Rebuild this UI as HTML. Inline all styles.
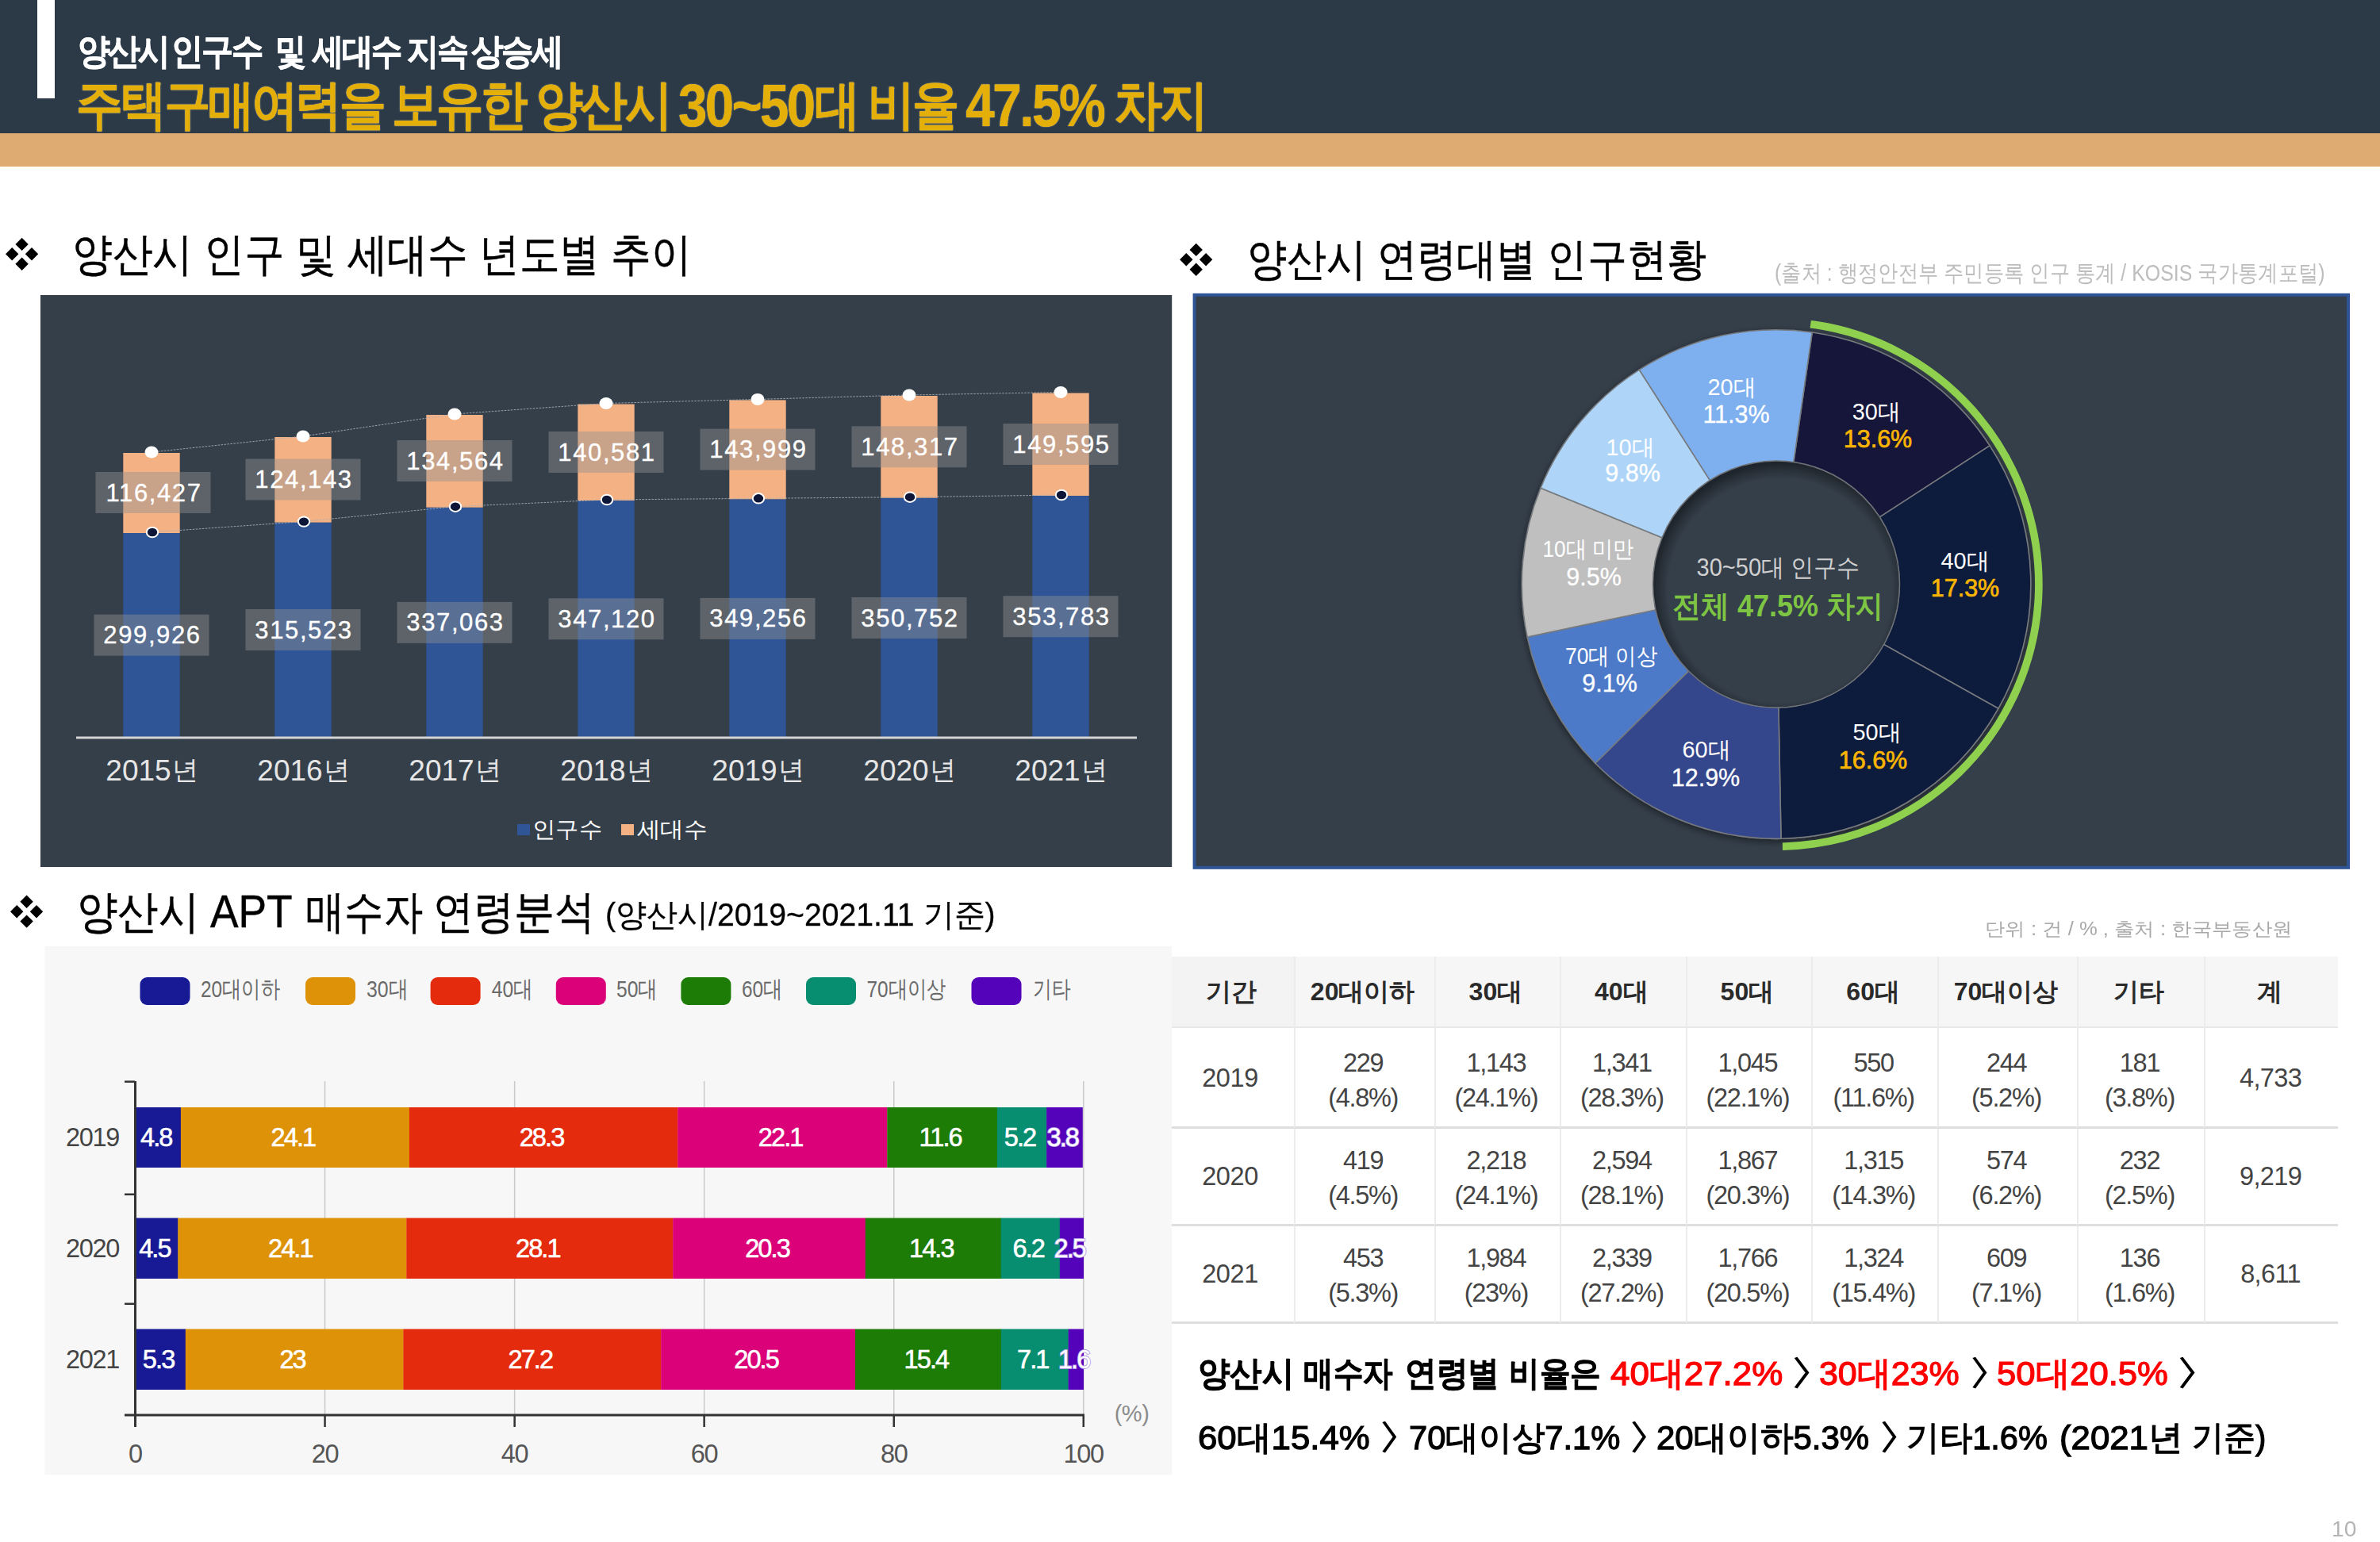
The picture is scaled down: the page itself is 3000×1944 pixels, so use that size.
<!DOCTYPE html>
<html lang="ko"><head><meta charset="utf-8"><title>양산시 인구수 및 세대수</title>
<style>
html,body{margin:0;padding:0;}
body{width:3000px;height:1944px;position:relative;overflow:hidden;background:#fff;font-family:"Liberation Sans",sans-serif;}
.abs{position:absolute;white-space:nowrap;transform-origin:0 0;}
#hdr{left:0;top:0;width:3000px;height:167.5px;background:#2c3a48;}
#tan{left:0;top:167.5px;width:3000px;height:42px;background:#deac72;}
#wbar{left:47px;top:0;width:22px;height:124px;background:#fff;}
svg{position:absolute;left:0;top:0;}
svg text{font-family:"Liberation Sans",sans-serif;}
table{border-collapse:separate;border-spacing:0;position:absolute;left:1477.3px;top:1206.2px;table-layout:fixed;width:1470px;}
td,th{padding:0;box-sizing:border-box;text-align:center;vertical-align:middle;color:#444;font-size:32.5px;letter-spacing:-1.3px;line-height:44.4px;border-left:2.5px solid #ececec;border-bottom:3px solid #dedede;font-weight:normal;}
th{background:#f6f6f6;color:#2a2a2a;font-weight:bold;font-size:32px;height:90px;letter-spacing:0;border-bottom:2.5px solid #e8e8e8;}
td{height:123.1px;}
tr.r1 td{height:126.5px;}
td.two{padding-top:5px;padding-right:4px;}
tr.r1 td{padding-top:3px;}
tr.r1 td.two{padding-top:8px;}
td:first-child{padding-right:7px;letter-spacing:-0.4px;}
td:last-child{padding-right:3px;letter-spacing:-0.6px;}
th{padding-right:5px;}
td:first-child,th:first-child{border-left:none;}
th:first-child{background:#f3f3f3;}
th span{display:inline-block;}
.r{color:#ff0000;}
.gt{letter-spacing:-0.42em;}
</style></head><body>
<div id="hdr" class="abs"></div><div id="tan" class="abs"></div><div id="wbar" class="abs"></div>

<div class="abs" style="left:97.5px;top:42.0px;font-size:45.26px;line-height:45.26px;transform:scaleX(0.9025);font-weight:bold;letter-spacing:-0.06em;color:#fff;-webkit-text-stroke:0.9px #fff;">양산시</div>
<div class="abs" style="left:215.9px;top:42.0px;font-size:45.26px;line-height:45.26px;transform:scaleX(0.8944);font-weight:bold;letter-spacing:-0.06em;color:#fff;-webkit-text-stroke:0.9px #fff;">인구수</div>
<div class="abs" style="left:347.1px;top:42.0px;font-size:45.26px;line-height:45.26px;transform:scaleX(0.8615);font-weight:bold;letter-spacing:-0.06em;color:#fff;-webkit-text-stroke:0.9px #fff;">및</div>
<div class="abs" style="left:394.3px;top:42.0px;font-size:45.26px;line-height:45.26px;transform:scaleX(0.8721);font-weight:bold;letter-spacing:-0.06em;color:#fff;-webkit-text-stroke:0.9px #fff;">세대수</div>
<div class="abs" style="left:512.5px;top:42.0px;font-size:45.26px;line-height:45.26px;transform:scaleX(0.8905);font-weight:bold;letter-spacing:-0.06em;color:#fff;-webkit-text-stroke:0.9px #fff;">지속</div>
<div class="abs" style="left:594.1px;top:42.0px;font-size:45.26px;line-height:45.26px;transform:scaleX(0.9008);font-weight:bold;letter-spacing:-0.06em;color:#fff;-webkit-text-stroke:0.9px #fff;">상승세</div>
<div class="abs" style="left:96.2px;top:98.8px;font-size:66.60px;line-height:66.60px;transform:scaleX(0.8776);font-weight:bold;letter-spacing:-0.06em;color:#e4af08;text-shadow:0 0 1px #efd27a,0 0 2.5px rgba(160,175,190,.4);">주택구매여력을</div>
<div class="abs" style="left:494.0px;top:98.8px;font-size:66.60px;line-height:66.60px;transform:scaleX(0.8894);font-weight:bold;letter-spacing:-0.06em;color:#e4af08;text-shadow:0 0 1px #efd27a,0 0 2.5px rgba(160,175,190,.4);">보유한</div>
<div class="abs" style="left:674.8px;top:98.8px;font-size:66.60px;line-height:66.60px;transform:scaleX(0.8933);font-weight:bold;letter-spacing:-0.06em;color:#e4af08;text-shadow:0 0 1px #efd27a,0 0 2.5px rgba(160,175,190,.4);">양산시</div>
<div class="abs" style="left:1027.3px;top:98.8px;font-size:66.60px;line-height:66.60px;transform:scaleX(0.8474);font-weight:bold;letter-spacing:-0.06em;color:#e4af08;text-shadow:0 0 1px #efd27a,0 0 2.5px rgba(160,175,190,.4);">대</div>
<div class="abs" style="left:1094.1px;top:98.8px;font-size:66.60px;line-height:66.60px;transform:scaleX(0.8826);font-weight:bold;letter-spacing:-0.06em;color:#e4af08;text-shadow:0 0 1px #efd27a,0 0 2.5px rgba(160,175,190,.4);">비율</div>
<div class="abs" style="left:1404.0px;top:98.8px;font-size:66.60px;line-height:66.60px;transform:scaleX(0.9144);font-weight:bold;letter-spacing:-0.06em;color:#e4af08;text-shadow:0 0 1px #efd27a,0 0 2.5px rgba(160,175,190,.4);">차지</div>
<div class="abs" style="left:855.1px;top:95.6px;font-size:75.21px;line-height:75.21px;transform:scaleX(0.8696);font-weight:bold;letter-spacing:-0.04em;color:#e4af08;text-shadow:0 0 1px #efd27a,0 0 2.5px rgba(160,175,190,.4);">30~50</div>
<div class="abs" style="left:1216.7px;top:95.6px;font-size:75.21px;line-height:75.21px;transform:scaleX(0.8788);font-weight:bold;letter-spacing:-0.04em;color:#e4af08;text-shadow:0 0 1px #efd27a,0 0 2.5px rgba(160,175,190,.4);">47.5%</div>
<div class="abs" style="left:90.8px;top:292.2px;font-size:57.37px;line-height:57.37px;transform:scaleX(0.8892);color:#000;-webkit-text-stroke:0.5px #000;">양산시 인구 및 세대수 년도별 추이</div>
<div class="abs" style="left:1571.5px;top:299.2px;font-size:56.13px;line-height:56.13px;transform:scaleX(0.8944);color:#000;-webkit-text-stroke:0.5px #000;">양산시 연령대별 인구현황</div>
<div class="abs" style="left:2237.1px;top:330.3px;font-size:28.59px;line-height:28.59px;transform:scaleX(0.8725);color:#bdbdbd;">(출처 : 행정안전부 주민등록 인구 통계 / KOSIS 국가통계포털)</div>
<div class="abs" style="left:96.9px;top:1122.4px;font-size:56.81px;line-height:56.81px;transform:scaleX(0.9013);color:#000;-webkit-text-stroke:0.5px #000;">양산시</div>
<div class="abs" style="left:264.9px;top:1122.4px;font-size:56.81px;line-height:56.81px;transform:scaleX(0.9376);color:#000;-webkit-text-stroke:0.5px #000;">APT</div>
<div class="abs" style="left:384.5px;top:1122.4px;font-size:56.81px;line-height:56.81px;transform:scaleX(0.8641);color:#000;-webkit-text-stroke:0.5px #000;">매수자</div>
<div class="abs" style="left:546.1px;top:1122.4px;font-size:56.81px;line-height:56.81px;transform:scaleX(0.8944);color:#000;-webkit-text-stroke:0.5px #000;">연령분석</div>
<div class="abs" style="left:762.8px;top:1134.0px;font-size:40.15px;line-height:40.15px;transform:scaleX(0.9756);color:#000;-webkit-text-stroke:0.3px #000;">(양산시/2019~2021.11 기준)</div>
<div class="abs" style="left:2502.4px;top:1159.8px;font-size:23.21px;line-height:23.21px;transform:scaleX(1.1043);color:#a8a8a8;">단위 : 건 / % , 출처 : 한국부동산원</div>
<div class="abs" style="left:2938.9px;top:1913.7px;font-size:27.19px;line-height:27.19px;transform:scaleX(1.0370);color:#b4b4b4;">10</div>
<div class="abs" style="left:1510.2px;top:1710.4px;font-size:43.00px;line-height:43.00px;transform:scaleX(0.9392);font-weight:bold;color:#000;-webkit-text-stroke:0.7px #000;">양산시</div>
<div class="abs" style="left:1642.5px;top:1710.4px;font-size:43.00px;line-height:43.00px;transform:scaleX(0.8724);font-weight:bold;color:#000;-webkit-text-stroke:0.7px #000;">매수자</div>
<div class="abs" style="left:1771.4px;top:1710.4px;font-size:43.00px;line-height:43.00px;transform:scaleX(0.9240);font-weight:bold;color:#000;-webkit-text-stroke:0.7px #000;">연령별</div>
<div class="abs" style="left:1902.3px;top:1710.4px;font-size:43.00px;line-height:43.00px;transform:scaleX(0.8968);font-weight:bold;color:#000;-webkit-text-stroke:0.7px #000;">비율은</div>
<div class="abs" style="left:2030.3px;top:1710.4px;font-size:43.00px;line-height:43.00px;transform:scaleX(1.0213);color:#f00;-webkit-text-stroke:1.25px #f00;">40대27.2%</div>
<div class="abs" style="left:2254.4px;top:1710.4px;font-size:43.00px;line-height:43.00px;transform:scaleX(1.6000);color:#000;-webkit-text-stroke:1.25px #000;">〉</div>
<div class="abs" style="left:2292.6px;top:1710.4px;font-size:43.00px;line-height:43.00px;transform:scaleX(0.9983);color:#f00;-webkit-text-stroke:1.25px #f00;">30대23%</div>
<div class="abs" style="left:2478.8px;top:1710.4px;font-size:43.00px;line-height:43.00px;transform:scaleX(1.5364);color:#000;-webkit-text-stroke:1.25px #000;">〉</div>
<div class="abs" style="left:2516.8px;top:1710.4px;font-size:43.00px;line-height:43.00px;transform:scaleX(1.0143);color:#f00;-webkit-text-stroke:1.25px #f00;">50대20.5%</div>
<div class="abs" style="left:2739.7px;top:1710.4px;font-size:43.00px;line-height:43.00px;transform:scaleX(1.6000);color:#000;-webkit-text-stroke:1.25px #000;">〉</div>
<div class="abs" style="left:1510.4px;top:1790.9px;font-size:43.00px;line-height:43.00px;transform:scaleX(1.0186);color:#000;-webkit-text-stroke:1.25px #000;">60대15.4%</div>
<div class="abs" style="left:1735.4px;top:1790.9px;font-size:43.00px;line-height:43.00px;transform:scaleX(1.5273);color:#000;-webkit-text-stroke:1.25px #000;">〉</div>
<div class="abs" style="left:1775.5px;top:1790.9px;font-size:43.00px;line-height:43.00px;transform:scaleX(0.9684);color:#000;-webkit-text-stroke:1.25px #000;">70대이상7.1%</div>
<div class="abs" style="left:2050.2px;top:1790.9px;font-size:43.00px;line-height:43.00px;transform:scaleX(1.5091);color:#000;-webkit-text-stroke:1.25px #000;">〉</div>
<div class="abs" style="left:2088.3px;top:1790.9px;font-size:43.00px;line-height:43.00px;transform:scaleX(0.9754);color:#000;-webkit-text-stroke:1.25px #000;">20대이하5.3%</div>
<div class="abs" style="left:2364.8px;top:1790.9px;font-size:43.00px;line-height:43.00px;transform:scaleX(1.5364);color:#000;-webkit-text-stroke:1.25px #000;">〉</div>
<div class="abs" style="left:2403.1px;top:1790.9px;font-size:43.00px;line-height:43.00px;transform:scaleX(0.9667);color:#000;-webkit-text-stroke:1.25px #000;">기타1.6%</div>
<div class="abs" style="left:2595.6px;top:1790.9px;font-size:43.00px;line-height:43.00px;transform:scaleX(1.0171);color:#000;-webkit-text-stroke:1.25px #000;">(2021년</div>
<div class="abs" style="left:2763.4px;top:1790.9px;font-size:43.00px;line-height:43.00px;transform:scaleX(0.9316);color:#000;-webkit-text-stroke:1.25px #000;">기준)</div>
<svg width="3000" height="1944" viewBox="0 0 3000 1944">
<defs><filter id="ds" x="-10%" y="-10%" width="120%" height="120%"><feDropShadow dx="0" dy="3" stdDeviation="5" flood-color="#000" flood-opacity="0.5"/></filter><radialGradient id="hole" cx="51.5%" cy="52.5%" r="51.5%"><stop offset="0.88" stop-color="#353f4a"/><stop offset="1" stop-color="#1f252c"/></radialGradient></defs>
<path d="M27.6,299.7L35.8,307.9L27.6,316.1L19.4,307.9ZM27.6,324.5L35.8,332.7L27.6,340.9L19.4,332.7ZM15.2,312.1L23.4,320.3L15.2,328.5L7.0,320.3ZM40.0,312.1L48.2,320.3L40.0,328.5L31.8,320.3Z" fill="#000"/>
<path d="M1507.7,306.7L1515.9,314.9L1507.7,323.1L1499.5,314.9ZM1507.7,331.5L1515.9,339.7L1507.7,347.9L1499.5,339.7ZM1495.3,319.1L1503.5,327.3L1495.3,335.5L1487.1,327.3ZM1520.1,319.1L1528.3,327.3L1520.1,335.5L1511.9,327.3Z" fill="#000"/>
<path d="M33.6,1128.6L41.8,1136.8L33.6,1145.0L25.4,1136.8ZM33.6,1153.4L41.8,1161.6L33.6,1169.8L25.4,1161.6ZM21.2,1141.0L29.4,1149.2L21.2,1157.4L13.0,1149.2ZM46.0,1141.0L54.2,1149.2L46.0,1157.4L37.8,1149.2Z" fill="#000"/>
<rect x="51" y="372" width="1426.2" height="721" fill="#353f4a"/>
<rect x="155.3" y="672" width="71.4" height="257.0" fill="#2f5597"/>
<rect x="155.3" y="571" width="71.4" height="101.0" fill="#f4b183"/>
<rect x="346.3" y="658.6" width="71.4" height="270.4" fill="#2f5597"/>
<rect x="346.3" y="551" width="71.4" height="107.6" fill="#f4b183"/>
<rect x="537.3" y="639.7" width="71.4" height="289.3" fill="#2f5597"/>
<rect x="537.3" y="523" width="71.4" height="116.7" fill="#f4b183"/>
<rect x="728.3" y="631" width="71.4" height="298.0" fill="#2f5597"/>
<rect x="728.3" y="509.5" width="71.4" height="121.5" fill="#f4b183"/>
<rect x="919.3" y="629.3" width="71.4" height="299.7" fill="#2f5597"/>
<rect x="919.3" y="504.4" width="71.4" height="124.9" fill="#f4b183"/>
<rect x="1110.3" y="627.7" width="71.4" height="301.3" fill="#2f5597"/>
<rect x="1110.3" y="499" width="71.4" height="128.7" fill="#f4b183"/>
<rect x="1301.3" y="625" width="71.4" height="304.0" fill="#2f5597"/>
<rect x="1301.3" y="495.5" width="71.4" height="129.5" fill="#f4b183"/>
<rect x="96" y="928.5" width="1337" height="3" fill="#d4d4d4"/>
<polyline points="191,570 382,550 573,522 764,508.5 955,503.4 1146,498 1337,494.5" fill="none" stroke="#aab0b6" stroke-width="1" stroke-dasharray="2.5 1.5" opacity="0.85"/>
<polyline points="191,671 382,657.6 573,638.7 764,630 955,628.3 1146,626.7 1337,624" fill="none" stroke="#aab0b6" stroke-width="1" stroke-dasharray="2.5 1.5" opacity="0.85"/>
<ellipse cx="191" cy="570" rx="8.5" ry="7.5" fill="#fff"/>
<ellipse cx="192" cy="671" rx="7.2" ry="6.2" fill="#0e1638" stroke="#fff" stroke-width="2"/>
<ellipse cx="382" cy="550" rx="8.5" ry="7.5" fill="#fff"/>
<ellipse cx="383" cy="657.6" rx="7.2" ry="6.2" fill="#0e1638" stroke="#fff" stroke-width="2"/>
<ellipse cx="573" cy="522" rx="8.5" ry="7.5" fill="#fff"/>
<ellipse cx="574" cy="638.7" rx="7.2" ry="6.2" fill="#0e1638" stroke="#fff" stroke-width="2"/>
<ellipse cx="764" cy="508.5" rx="8.5" ry="7.5" fill="#fff"/>
<ellipse cx="765" cy="630" rx="7.2" ry="6.2" fill="#0e1638" stroke="#fff" stroke-width="2"/>
<ellipse cx="955" cy="503.4" rx="8.5" ry="7.5" fill="#fff"/>
<ellipse cx="956" cy="628.3" rx="7.2" ry="6.2" fill="#0e1638" stroke="#fff" stroke-width="2"/>
<ellipse cx="1146" cy="498" rx="8.5" ry="7.5" fill="#fff"/>
<ellipse cx="1147" cy="626.7" rx="7.2" ry="6.2" fill="#0e1638" stroke="#fff" stroke-width="2"/>
<ellipse cx="1337" cy="494.5" rx="8.5" ry="7.5" fill="#fff"/>
<ellipse cx="1338" cy="624" rx="7.2" ry="6.2" fill="#0e1638" stroke="#fff" stroke-width="2"/>
<rect x="120.5" y="595.0" width="145" height="52" fill="#909090" fill-opacity="0.445"/>
<text x="194" y="631.5" font-size="31" fill="#fff" stroke="#fff" stroke-width="0.35" text-anchor="middle" letter-spacing="1.6">116,427</text>
<rect x="118.5" y="774.7" width="145" height="52" fill="#909090" fill-opacity="0.445"/>
<text x="192" y="811.2" font-size="31" fill="#fff" stroke="#fff" stroke-width="0.35" text-anchor="middle" letter-spacing="1.6">299,926</text>
<rect x="309.5" y="578.5" width="145" height="52" fill="#909090" fill-opacity="0.445"/>
<text x="383" y="615.0" font-size="31" fill="#fff" stroke="#fff" stroke-width="0.35" text-anchor="middle" letter-spacing="1.6">124,143</text>
<rect x="309.5" y="768.0" width="145" height="52" fill="#909090" fill-opacity="0.445"/>
<text x="383" y="804.5" font-size="31" fill="#fff" stroke="#fff" stroke-width="0.35" text-anchor="middle" letter-spacing="1.6">315,523</text>
<rect x="500.5" y="555.0" width="145" height="52" fill="#909090" fill-opacity="0.445"/>
<text x="574" y="591.5" font-size="31" fill="#fff" stroke="#fff" stroke-width="0.35" text-anchor="middle" letter-spacing="1.6">134,564</text>
<rect x="500.5" y="758.9" width="145" height="52" fill="#909090" fill-opacity="0.445"/>
<text x="574" y="795.4" font-size="31" fill="#fff" stroke="#fff" stroke-width="0.35" text-anchor="middle" letter-spacing="1.6">337,063</text>
<rect x="691.5" y="544.0" width="145" height="52" fill="#909090" fill-opacity="0.445"/>
<text x="765" y="580.5" font-size="31" fill="#fff" stroke="#fff" stroke-width="0.35" text-anchor="middle" letter-spacing="1.6">140,581</text>
<rect x="691.5" y="754.3" width="145" height="52" fill="#909090" fill-opacity="0.445"/>
<text x="765" y="790.8" font-size="31" fill="#fff" stroke="#fff" stroke-width="0.35" text-anchor="middle" letter-spacing="1.6">347,120</text>
<rect x="882.5" y="540.6" width="145" height="52" fill="#909090" fill-opacity="0.445"/>
<text x="956" y="577.1" font-size="31" fill="#fff" stroke="#fff" stroke-width="0.35" text-anchor="middle" letter-spacing="1.6">143,999</text>
<rect x="882.5" y="753.9" width="145" height="52" fill="#909090" fill-opacity="0.445"/>
<text x="956" y="790.4" font-size="31" fill="#fff" stroke="#fff" stroke-width="0.35" text-anchor="middle" letter-spacing="1.6">349,256</text>
<rect x="1073.5" y="537.3" width="145" height="52" fill="#909090" fill-opacity="0.445"/>
<text x="1147" y="573.8" font-size="31" fill="#fff" stroke="#fff" stroke-width="0.35" text-anchor="middle" letter-spacing="1.6">148,317</text>
<rect x="1073.5" y="753.0" width="145" height="52" fill="#909090" fill-opacity="0.445"/>
<text x="1147" y="789.5" font-size="31" fill="#fff" stroke="#fff" stroke-width="0.35" text-anchor="middle" letter-spacing="1.6">350,752</text>
<rect x="1264.5" y="534.0" width="145" height="52" fill="#909090" fill-opacity="0.445"/>
<text x="1338" y="570.5" font-size="31" fill="#fff" stroke="#fff" stroke-width="0.35" text-anchor="middle" letter-spacing="1.6">149,595</text>
<rect x="1264.5" y="751.2" width="145" height="52" fill="#909090" fill-opacity="0.445"/>
<text x="1338" y="787.7" font-size="31" fill="#fff" stroke="#fff" stroke-width="0.35" text-anchor="middle" letter-spacing="1.6">353,783</text>
<text x="191.5" y="983.5" font-size="37" fill="#e6e6e6" text-anchor="middle">2015<tspan font-size="33" dx="1" dy="-1.5">년</tspan></text>
<text x="382.5" y="983.5" font-size="37" fill="#e6e6e6" text-anchor="middle">2016<tspan font-size="33" dx="1" dy="-1.5">년</tspan></text>
<text x="573.5" y="983.5" font-size="37" fill="#e6e6e6" text-anchor="middle">2017<tspan font-size="33" dx="1" dy="-1.5">년</tspan></text>
<text x="764.5" y="983.5" font-size="37" fill="#e6e6e6" text-anchor="middle">2018<tspan font-size="33" dx="1" dy="-1.5">년</tspan></text>
<text x="955.5" y="983.5" font-size="37" fill="#e6e6e6" text-anchor="middle">2019<tspan font-size="33" dx="1" dy="-1.5">년</tspan></text>
<text x="1146.5" y="983.5" font-size="37" fill="#e6e6e6" text-anchor="middle">2020<tspan font-size="33" dx="1" dy="-1.5">년</tspan></text>
<text x="1337.5" y="983.5" font-size="37" fill="#e6e6e6" text-anchor="middle">2021<tspan font-size="33" dx="1" dy="-1.5">년</tspan></text>
<rect x="652" y="1039" width="16" height="14" fill="#2f5597"/><text x="671" y="1055" font-size="28" fill="#fff" textLength="88" lengthAdjust="spacingAndGlyphs">인구수</text>
<rect x="783" y="1039" width="16" height="14" fill="#f4b183"/><text x="802.5" y="1055" font-size="28" fill="#fff" textLength="89" lengthAdjust="spacingAndGlyphs">세대수</text>
<rect x="1505.6" y="371.8" width="1454.4" height="722" fill="#353f4a" stroke="#2e5495" stroke-width="4"/>
<g filter="url(#ds)">
<path d="M2284.2,419.0 A320.8,320.8 0 0 1 2508.1,561.9 L2369.0,652.2 A155,155 0 0 0 2260.8,583.1 Z" fill="#16173a" stroke="#777a7e" stroke-width="1.6"/>
<path d="M2508.1,561.9 A320.8,320.8 0 0 1 2519.0,893.2 L2374.3,812.3 A155,155 0 0 0 2369.0,652.2 Z" fill="#0e1a3c" stroke="#777a7e" stroke-width="1.6"/>
<path d="M2519.0,893.2 A320.8,320.8 0 0 1 2245.0,1057.3 L2241.9,891.6 A155,155 0 0 0 2374.3,812.3 Z" fill="#0e1a3c" stroke="#777a7e" stroke-width="1.6"/>
<path d="M2245.0,1057.3 A320.8,320.8 0 0 1 2010.9,962.2 L2128.8,845.6 A155,155 0 0 0 2241.9,891.6 Z" fill="#36478c" stroke="#777a7e" stroke-width="1.6"/>
<path d="M2010.9,962.2 A320.8,320.8 0 0 1 1925.2,803.0 L2087.4,768.7 A155,155 0 0 0 2128.8,845.6 Z" fill="#4e7ac8" stroke="#777a7e" stroke-width="1.6"/>
<path d="M1925.2,803.0 A320.8,320.8 0 0 1 1942.0,615.3 L2095.5,678.0 A155,155 0 0 0 2087.4,768.7 Z" fill="#bfbfbf" stroke="#777a7e" stroke-width="1.6"/>
<path d="M1942.0,615.3 A320.8,320.8 0 0 1 2066.4,466.2 L2155.6,605.9 A155,155 0 0 0 2095.5,678.0 Z" fill="#aed5f8" stroke="#777a7e" stroke-width="1.6"/>
<path d="M2066.4,466.2 A320.8,320.8 0 0 1 2284.2,419.0 L2260.8,583.1 A155,155 0 0 0 2155.6,605.9 Z" fill="#7eb0ef" stroke="#777a7e" stroke-width="1.6"/>
</g>
<circle cx="2239" cy="736.6" r="155.5" fill="url(#hole)" stroke="#6f7378" stroke-width="1.5"/>
<path d="M2282.2,408.7 A330.7,330.7 0 0 1 2246.9,1067.2" fill="none" stroke="#8fd14f" stroke-width="9.6"/>
<text x="2365.2" y="528.6999999999999" font-size="29" fill="#fff" text-anchor="middle" textLength="61" lengthAdjust="spacingAndGlyphs">30대</text>
<text x="2367" y="564.3000000000001" font-size="30.5" fill="#fbb500" stroke="#fbb500" stroke-width="0.7" text-anchor="middle">13.6%</text>
<text x="2477" y="716.9" font-size="29" fill="#fff" text-anchor="middle" textLength="61" lengthAdjust="spacingAndGlyphs">40대</text>
<text x="2477" y="752.1" font-size="30.5" fill="#fbb500" stroke="#fbb500" stroke-width="0.7" text-anchor="middle">17.3%</text>
<text x="2366" y="932.9" font-size="29" fill="#fff" text-anchor="middle" textLength="61" lengthAdjust="spacingAndGlyphs">50대</text>
<text x="2361" y="968.6" font-size="30.5" fill="#fbb500" stroke="#fbb500" stroke-width="0.7" text-anchor="middle">16.6%</text>
<text x="2151" y="954.9" font-size="29" fill="#fff" text-anchor="middle" textLength="61" lengthAdjust="spacingAndGlyphs">60대</text>
<text x="2150" y="991.1" font-size="30.5" fill="#fff" stroke="#fff" stroke-width="0.3" text-anchor="middle">12.9%</text>
<text x="2031" y="836.9" font-size="29" fill="#fff" text-anchor="middle" textLength="116" lengthAdjust="spacingAndGlyphs">70대 이상</text>
<text x="2029" y="872.1" font-size="30.5" fill="#fff" stroke="#fff" stroke-width="0.3" text-anchor="middle">9.1%</text>
<text x="2002" y="702.4" font-size="29" fill="#fff" text-anchor="middle" textLength="115" lengthAdjust="spacingAndGlyphs">10대 미만</text>
<text x="2009" y="738.1" font-size="30.5" fill="#fff" stroke="#fff" stroke-width="0.3" text-anchor="middle">9.5%</text>
<text x="2055" y="574.4" font-size="29" fill="#fff" text-anchor="middle" textLength="61" lengthAdjust="spacingAndGlyphs">10대</text>
<text x="2058" y="606.6" font-size="30.5" fill="#fff" stroke="#fff" stroke-width="0.3" text-anchor="middle">9.8%</text>
<text x="2183" y="498.4" font-size="29" fill="#fff" text-anchor="middle" textLength="61" lengthAdjust="spacingAndGlyphs">20대</text>
<text x="2188.5" y="532.8000000000001" font-size="30.5" fill="#fff" stroke="#fff" stroke-width="0.3" text-anchor="middle">11.3%</text>
<text x="2241.5" y="726" font-size="31" fill="#d0d0d0" text-anchor="middle" textLength="206" lengthAdjust="spacingAndGlyphs">30~50대 인구수</text>
<text x="2241" y="777" font-size="38" font-weight="bold" fill="#7ec544" text-anchor="middle" textLength="266" lengthAdjust="spacingAndGlyphs">전체 47.5% 차지</text>
<rect x="56.5" y="1193" width="1420.7" height="666.4" fill="#f7f7f7"/>
<rect x="176.5" y="1232" width="63" height="35" rx="9" fill="#171a94"/>
<text x="253" y="1256.5" font-size="30" fill="#6a6a6a" textLength="100" lengthAdjust="spacingAndGlyphs">20대이하</text>
<rect x="385" y="1232" width="63" height="35" rx="9" fill="#de9208"/>
<text x="462" y="1256.5" font-size="30" fill="#6a6a6a" textLength="52.5" lengthAdjust="spacingAndGlyphs">30대</text>
<rect x="542.6" y="1232" width="63" height="35" rx="9" fill="#e52b0d"/>
<text x="619.8" y="1256.5" font-size="30" fill="#6a6a6a" textLength="52" lengthAdjust="spacingAndGlyphs">40대</text>
<rect x="700.8" y="1232" width="63" height="35" rx="9" fill="#db0279"/>
<text x="777" y="1256.5" font-size="30" fill="#6a6a6a" textLength="52" lengthAdjust="spacingAndGlyphs">50대</text>
<rect x="858.4" y="1232" width="63" height="35" rx="9" fill="#1c7c06"/>
<text x="935" y="1256.5" font-size="30" fill="#6a6a6a" textLength="51.5" lengthAdjust="spacingAndGlyphs">60대</text>
<rect x="1016" y="1232" width="63" height="35" rx="9" fill="#078e70"/>
<text x="1092.5" y="1256.5" font-size="30" fill="#6a6a6a" textLength="100" lengthAdjust="spacingAndGlyphs">70대이상</text>
<rect x="1224.5" y="1232" width="63" height="35" rx="9" fill="#5503ba"/>
<text x="1302" y="1256.5" font-size="30" fill="#6a6a6a" textLength="47.5" lengthAdjust="spacingAndGlyphs">기타</text>
<rect x="408.8" y="1363" width="1.5" height="421" fill="#c9c9c9"/>
<rect x="647.9" y="1363" width="1.5" height="421" fill="#c9c9c9"/>
<rect x="886.9" y="1363" width="1.5" height="421" fill="#c9c9c9"/>
<rect x="1126.0" y="1363" width="1.5" height="421" fill="#c9c9c9"/>
<rect x="1365.0" y="1363" width="1.5" height="421" fill="#c9c9c9"/>
<rect x="170.5" y="1396" width="57.7" height="76" fill="#171a94"/>
<rect x="227.9" y="1396" width="288.3" height="76" fill="#de9208"/>
<rect x="515.9" y="1396" width="338.5" height="76" fill="#e52b0d"/>
<rect x="854.2" y="1396" width="264.4" height="76" fill="#db0279"/>
<rect x="1118.3" y="1396" width="138.9" height="76" fill="#1c7c06"/>
<rect x="1256.9" y="1396" width="62.5" height="76" fill="#078e70"/>
<rect x="1319.1" y="1396" width="45.7" height="76" fill="#5503ba"/>
<text x="196.7" y="1445.0" font-size="32.5" fill="#fff" text-anchor="middle" letter-spacing="-1.9" stroke="#fff" stroke-width="0.6">4.8</text>
<text x="369.4" y="1445.0" font-size="32.5" fill="#fff" text-anchor="middle" letter-spacing="-1.9" stroke="#fff" stroke-width="0.6">24.1</text>
<text x="682.5" y="1445.0" font-size="32.5" fill="#fff" text-anchor="middle" letter-spacing="-1.9" stroke="#fff" stroke-width="0.6">28.3</text>
<text x="983.7" y="1445.0" font-size="32.5" fill="#fff" text-anchor="middle" letter-spacing="-1.9" stroke="#fff" stroke-width="0.6">22.1</text>
<text x="1185.1" y="1445.0" font-size="32.5" fill="#fff" text-anchor="middle" letter-spacing="-1.9" stroke="#fff" stroke-width="0.6">11.6</text>
<text x="1285.5" y="1445.0" font-size="32.5" fill="#fff" text-anchor="middle" letter-spacing="-1.9" stroke="#fff" stroke-width="0.6">5.2</text>
<text x="1339.3" y="1445.0" font-size="32.5" fill="#fff" text-anchor="middle" letter-spacing="-1.9" stroke="#b59be6" stroke-width="1.8" paint-order="stroke">3.8</text>
<text x="150" y="1445.2" font-size="32.5" fill="#444" text-anchor="end" letter-spacing="-1.3">2019</text>
<rect x="170.5" y="1535.5" width="54.1" height="76.5" fill="#171a94"/>
<rect x="224.3" y="1535.5" width="288.3" height="76.5" fill="#de9208"/>
<rect x="512.3" y="1535.5" width="336.2" height="76.5" fill="#e52b0d"/>
<rect x="848.2" y="1535.5" width="242.9" height="76.5" fill="#db0279"/>
<rect x="1090.8" y="1535.5" width="171.2" height="76.5" fill="#1c7c06"/>
<rect x="1261.7" y="1535.5" width="74.4" height="76.5" fill="#078e70"/>
<rect x="1335.8" y="1535.5" width="30.2" height="76.5" fill="#5503ba"/>
<text x="194.9" y="1584.8" font-size="32.5" fill="#fff" text-anchor="middle" letter-spacing="-1.9" stroke="#fff" stroke-width="0.6">4.5</text>
<text x="365.8" y="1584.8" font-size="32.5" fill="#fff" text-anchor="middle" letter-spacing="-1.9" stroke="#fff" stroke-width="0.6">24.1</text>
<text x="677.8" y="1584.8" font-size="32.5" fill="#fff" text-anchor="middle" letter-spacing="-1.9" stroke="#fff" stroke-width="0.6">28.1</text>
<text x="967.0" y="1584.8" font-size="32.5" fill="#fff" text-anchor="middle" letter-spacing="-1.9" stroke="#fff" stroke-width="0.6">20.3</text>
<text x="1173.8" y="1584.8" font-size="32.5" fill="#fff" text-anchor="middle" letter-spacing="-1.9" stroke="#fff" stroke-width="0.6">14.3</text>
<text x="1296.3" y="1584.8" font-size="32.5" fill="#fff" text-anchor="middle" letter-spacing="-1.9" stroke="#fff" stroke-width="0.6">6.2</text>
<text x="1348.3" y="1584.8" font-size="32.5" fill="#fff" text-anchor="middle" letter-spacing="-1.9" stroke="#b59be6" stroke-width="1.8" paint-order="stroke">2.5</text>
<text x="150" y="1585.0" font-size="32.5" fill="#444" text-anchor="end" letter-spacing="-1.3">2020</text>
<rect x="170.5" y="1675.5" width="63.6" height="76.5" fill="#171a94"/>
<rect x="233.8" y="1675.5" width="274.9" height="76.5" fill="#de9208"/>
<rect x="508.4" y="1675.5" width="325.1" height="76.5" fill="#e52b0d"/>
<rect x="833.2" y="1675.5" width="245.1" height="76.5" fill="#db0279"/>
<rect x="1077.9" y="1675.5" width="184.2" height="76.5" fill="#1c7c06"/>
<rect x="1261.8" y="1675.5" width="85.1" height="76.5" fill="#078e70"/>
<rect x="1346.6" y="1675.5" width="19.4" height="76.5" fill="#5503ba"/>
<text x="199.6" y="1724.8" font-size="32.5" fill="#fff" text-anchor="middle" letter-spacing="-1.9" stroke="#fff" stroke-width="0.6">5.3</text>
<text x="368.6" y="1724.8" font-size="32.5" fill="#fff" text-anchor="middle" letter-spacing="-1.9" stroke="#fff" stroke-width="0.6">23</text>
<text x="668.3" y="1724.8" font-size="32.5" fill="#fff" text-anchor="middle" letter-spacing="-1.9" stroke="#fff" stroke-width="0.6">27.2</text>
<text x="953.1" y="1724.8" font-size="32.5" fill="#fff" text-anchor="middle" letter-spacing="-1.9" stroke="#fff" stroke-width="0.6">20.5</text>
<text x="1167.4" y="1724.8" font-size="32.5" fill="#fff" text-anchor="middle" letter-spacing="-1.9" stroke="#fff" stroke-width="0.6">15.4</text>
<text x="1301.7" y="1724.8" font-size="32.5" fill="#fff" text-anchor="middle" letter-spacing="-1.9" stroke="#fff" stroke-width="0.6">7.1</text>
<text x="1353.6" y="1724.8" font-size="32.5" fill="#fff" text-anchor="middle" letter-spacing="-1.9" stroke="#b59be6" stroke-width="1.8" paint-order="stroke">1.6</text>
<text x="150" y="1725.0" font-size="32.5" fill="#444" text-anchor="end" letter-spacing="-1.3">2021</text>
<rect x="169" y="1363" width="3" height="436" fill="#333"/>
<rect x="157" y="1782.5" width="1210" height="3" fill="#333"/>
<rect x="157" y="1362.4" width="13" height="2.5" fill="#333"/>
<rect x="157" y="1504.5" width="13" height="2.5" fill="#333"/>
<rect x="157" y="1642.5" width="13" height="2.5" fill="#333"/>
<rect x="408.3" y="1784" width="2.5" height="15" fill="#333"/>
<rect x="647.4" y="1784" width="2.5" height="15" fill="#333"/>
<rect x="886.4" y="1784" width="2.5" height="15" fill="#333"/>
<rect x="1125.5" y="1784" width="2.5" height="15" fill="#333"/>
<rect x="1364.5" y="1784" width="2.5" height="15" fill="#333"/>
<text x="170.5" y="1844.3" font-size="32.5" fill="#555" text-anchor="middle" letter-spacing="-1.3">0</text>
<text x="409.5" y="1844.3" font-size="32.5" fill="#555" text-anchor="middle" letter-spacing="-1.3">20</text>
<text x="648.6" y="1844.3" font-size="32.5" fill="#555" text-anchor="middle" letter-spacing="-1.3">40</text>
<text x="887.6" y="1844.3" font-size="32.5" fill="#555" text-anchor="middle" letter-spacing="-1.3">60</text>
<text x="1126.7" y="1844.3" font-size="32.5" fill="#555" text-anchor="middle" letter-spacing="-1.3">80</text>
<text x="1365.7" y="1844.3" font-size="32.5" fill="#555" text-anchor="middle" letter-spacing="-1.3">100</text>
<text x="1426.5" y="1792" font-size="29" fill="#8c8c8c" text-anchor="middle" letter-spacing="-0.5">(%)</text>
</svg>
<table style="width:1470.00px"><colgroup><col style="width:153.45px"><col style="width:176.8px"><col style="width:158.7px"><col style="width:158.3px"><col style="width:158.8px"><col style="width:158.7px"><col style="width:176.1px"><col style="width:159.8px"><col style="width:169.35px"></colgroup>
<tr><th><span>기간</span></th><th><span>20대이하</span></th><th><span>30대</span></th><th><span>40대</span></th><th><span>50대</span></th><th><span>60대</span></th><th><span>70대이상</span></th><th><span>기타</span></th><th><span>계</span></th></tr>
<tr class="r1"><td>2019</td><td class="two">229<br>(4.8%)</td><td class="two">1,143<br>(24.1%)</td><td class="two">1,341<br>(28.3%)</td><td class="two">1,045<br>(22.1%)</td><td class="two">550<br>(11.6%)</td><td class="two">244<br>(5.2%)</td><td class="two">181<br>(3.8%)</td><td>4,733</td></tr>
<tr class="r2"><td>2020</td><td class="two">419<br>(4.5%)</td><td class="two">2,218<br>(24.1%)</td><td class="two">2,594<br>(28.1%)</td><td class="two">1,867<br>(20.3%)</td><td class="two">1,315<br>(14.3%)</td><td class="two">574<br>(6.2%)</td><td class="two">232<br>(2.5%)</td><td>9,219</td></tr>
<tr class="r3"><td>2021</td><td class="two">453<br>(5.3%)</td><td class="two">1,984<br>(23%)</td><td class="two">2,339<br>(27.2%)</td><td class="two">1,766<br>(20.5%)</td><td class="two">1,324<br>(15.4%)</td><td class="two">609<br>(7.1%)</td><td class="two">136<br>(1.6%)</td><td>8,611</td></tr>
</table>
</body></html>
